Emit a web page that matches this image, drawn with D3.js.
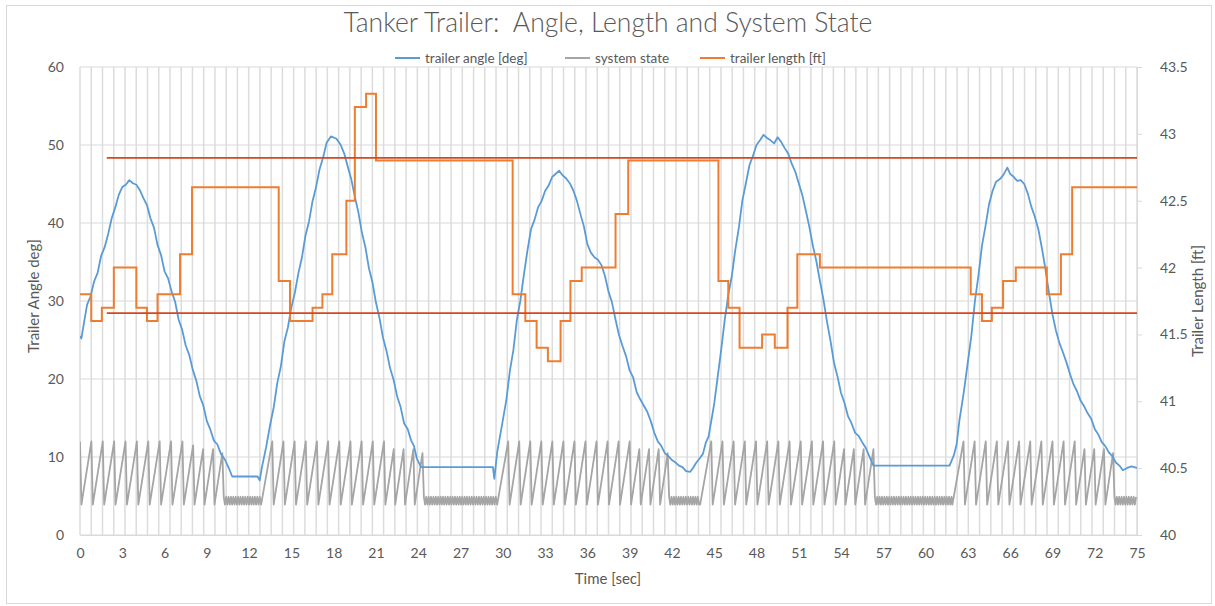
<!DOCTYPE html>
<html>
<head>
<meta charset="utf-8">
<script src="https://cdn.jsdelivr.net/npm/d3@7"></script>
<style>
  body { margin: 0; background: #fff; }
  svg { display: block; }
  text { font-family: Lato, "Open Sans", sans-serif; fill: #595959; }
</style>
</head>
<body>
<div id="chart"></div>
<script>
// ---- data ----
const timeTicks = [0, 3, 6, 9, 12, 15, 18, 21, 24, 27, 30, 33, 36, 39, 42, 45, 48, 51, 54, 57, 60, 63, 66, 69, 72, 75];
const angleTicks = [0, 10, 20, 30, 40, 50, 60];
const lengthTicks = [40, 40.5, 41, 41.5, 42, 42.5, 43, 43.5];

// trailer angle [deg] : [time, value]
const trailerAngle = [
  [0, 25.5], [0.1, 25.2], [0.3, 27.4], [0.5, 29.5], [0.75, 30.6], [1, 32.5], [1.25, 33.6], [1.5, 35.8],
  [1.75, 36.9], [2, 38.6], [2.25, 40.6], [2.5, 42], [2.75, 43.6], [3, 44.6], [3.25, 44.9], [3.5, 45.5],
  [3.75, 45.1], [4, 44.9], [4.25, 44.2], [4.5, 43.2], [4.75, 42.3], [5, 40.6], [5.25, 39.4], [5.5, 37.2],
  [5.75, 35.9], [6, 33.8], [6.25, 32.9], [6.5, 31.2], [6.75, 29.9], [7, 27.6], [7.25, 26.3], [7.5, 24.3],
  [7.75, 23.1], [8, 21.2], [8.25, 19.8], [8.5, 17.8], [8.75, 16.6], [9, 14.6], [9.25, 13.5], [9.5, 12.1],
  [9.75, 11.6], [10, 10.4], [10.3, 9.6], [10.6, 8.4], [10.8, 7.5], [12.6, 7.5],
  [12.75, 7.0], [12.9, 8.6], [13.2, 11.2], [13.5, 14.2], [13.75, 16.4], [14, 19.5], [14.25, 21.6],
  [14.5, 24.8], [14.75, 26.6], [15, 29.2], [15.25, 31.1], [15.5, 33.6], [15.75, 35.6], [16, 38.4],
  [16.25, 40.2], [16.5, 42.8], [16.75, 44.6], [17, 46.9], [17.25, 48.4], [17.5, 50.3], [17.8, 51.1],
  [18.2, 50.8], [18.5, 50], [18.75, 48.9], [19, 47.2], [19.25, 45.6], [19.5, 43.4], [19.75, 41.4],
  [20, 38.8], [20.25, 36.9], [20.5, 34.2], [20.75, 32.4], [21, 29.8], [21.25, 27.8], [21.5, 25.3],
  [21.75, 23.6], [22, 21.4], [22.25, 19.9], [22.5, 17.8], [22.75, 16.4], [23, 14.3], [23.25, 13.6],
  [23.5, 12.1], [23.7, 11.4], [23.9, 9.8], [24.2, 8.7], [29.3, 8.7], [29.4, 7.2], [29.6, 10.6], [30, 14.7],
  [30.25, 17.3], [30.5, 21], [30.75, 23.7], [31, 27.6], [31.25, 30.1], [31.5, 33.4], [31.75, 36.5],
  [32, 39.2], [32.25, 40.4], [32.5, 42], [32.75, 42.8], [33, 44.1], [33.25, 44.8], [33.5, 45.9],
  [34, 46.7], [34.25, 46.1], [34.5, 45.7], [34.75, 45.1], [35, 44.2], [35.25, 42.9], [35.5, 41.2],
  [35.75, 39.6], [36, 37.3], [36.25, 36.2], [36.5, 35.6], [36.75, 35.3], [37, 34.6], [37.25, 33.2],
  [37.5, 31.2], [37.75, 29.8], [38, 27.6], [38.25, 25.6], [38.5, 24.2], [38.75, 22.9], [39, 21.1],
  [39.25, 20.2], [39.5, 18.3], [39.75, 17.4], [40, 16.6], [40.25, 15.8], [40.5, 14.6], [40.75, 13.1],
  [41, 12], [41.25, 11.4], [41.5, 10.5], [41.75, 10.1], [42, 9.6], [42.25, 9.3], [42.5, 8.9], [42.75, 8.7],
  [43, 8.2], [43.3, 8.1], [43.5, 8.6], [43.7, 9.2], [44, 9.9], [44.2, 10.4], [44.4, 11.8], [44.6, 12.6],
  [44.8, 14.7], [45, 16.8], [45.25, 20.3], [45.5, 23.8], [45.75, 27.6], [46, 30.8], [46.25, 33.2],
  [46.5, 36.6], [46.75, 39.4], [47, 42.9], [47.25, 45.1], [47.5, 47.4], [47.75, 48.6], [48, 50],
  [48.25, 50.6], [48.5, 51.3], [48.75, 50.9], [49, 50.6], [49.25, 50.2], [49.5, 51], [49.75, 50.4],
  [50, 49.6], [50.25, 48.9], [50.5, 47.6], [50.75, 46.6], [51, 45.1], [51.25, 43.6], [51.5, 41.6],
  [51.75, 39.5], [52, 37.1], [52.25, 35.1], [52.5, 32.6], [52.75, 30.2], [53, 27.4], [53.25, 24.9],
  [53.5, 22.1], [53.75, 20.3], [54, 18.2], [54.25, 16.9], [54.5, 15.2], [54.75, 14.3], [55, 13.1],
  [55.25, 12.7], [55.5, 11.9], [55.75, 11.2], [56, 10.1], [56.3, 8.9], [61.7, 8.9], [62, 10.2],
  [62.2, 11.6], [62.4, 14.7], [62.7, 18.2], [63, 22.2], [63.25, 25.6], [63.5, 30], [63.75, 33.3],
  [64, 37.1], [64.25, 39.6], [64.5, 42.4], [64.75, 44.1], [65, 45.3], [65.25, 45.6], [65.5, 46.1],
  [65.8, 47.1], [66, 46.3], [66.2, 46], [66.5, 45.4], [66.75, 45.5], [67, 45], [67.25, 43.8],
  [67.5, 42.1], [67.75, 40.8], [68, 39.2], [68.25, 36.8], [68.5, 34.1], [68.75, 31.1], [69, 28.3],
  [69.25, 26.2], [69.5, 24.6], [69.75, 23.4], [70, 22.1], [70.25, 20.6], [70.5, 19.3], [70.75, 18.4],
  [71, 17.2], [71.25, 16.5], [71.5, 15.6], [71.75, 14.9], [72, 13.6], [72.25, 12.9], [72.5, 11.9],
  [72.75, 11.4], [73, 10.6], [73.25, 10.1], [73.5, 9.3], [73.75, 8.9], [74, 8.3], [74.3, 8.6],
  [74.6, 8.8], [75, 8.6]
];

// trailer length [ft] : step starts [time, value]
const trailerLength = [
  [0, 41.8], [0.8, 41.6], [1.55, 41.7], [2.4, 42.0], [4.0, 41.7], [4.75, 41.6], [5.5, 41.8], [7.1, 42.1],
  [7.95, 42.6], [14.1, 41.9], [14.9, 41.6], [16.5, 41.7], [17.2, 41.8], [17.9, 42.1], [18.9, 42.5],
  [19.5, 43.2], [20.3, 43.3], [21.0, 42.8], [30.7, 41.8], [31.6, 41.6], [32.4, 41.4], [33.2, 41.3],
  [34.1, 41.6], [34.8, 41.9], [35.6, 42.0], [38.0, 42.4], [38.9, 42.8], [45.3, 41.9], [46.0, 41.7],
  [46.8, 41.4], [48.4, 41.5], [49.3, 41.4], [50.2, 41.7], [50.9, 42.1], [52.5, 42.0], [63.2, 41.8],
  [64.0, 41.6], [64.7, 41.7], [65.5, 41.9], [66.4, 42.0], [68.6, 41.8], [69.6, 42.1], [70.4, 42.6], [75, 42.6]
];

// system state: active bursts (sawtooth peaks) and idle spans
const stateBursts = [
  { start: 0, end: 10.1, peaks: [12, 12, 12, 12, 12, 12, 12, 12, 12, 12, 11.5, 11, 11, 10.5] },
  { start: 12.85, end: 24.3, peaks: [12, 12, 12, 12, 12, 12, 12, 12, 12, 12, 12, 11, 11, 11, 10.5] },
  { start: 29.6, end: 41.7, peaks: [12, 12, 12, 12, 12, 12, 12, 12, 12, 12, 12, 12, 11, 11, 11, 10.5] },
  { start: 44.0, end: 56.3, peaks: [12, 12, 12, 12, 12, 12, 12, 12, 12, 12, 12, 12, 11, 11, 11, 11] },
  { start: 61.9, end: 73.3, peaks: [12, 12, 12, 12, 12, 12, 12, 12, 12, 12, 12, 11, 11, 11, 10.5] }
];
const stateIdle = [[10.1, 12.85], [24.3, 29.6], [41.7, 44.0], [56.3, 61.9], [73.3, 75]];
const stateLow = 3.9;
const idleHigh = 4.9;

// length limit lines [from time, value]
const limitLines = [[1.9, 42.82], [1.9, 41.66]];

const legendItems = [
  { name: 'trailer angle [deg]', color: '#5b9bd5' },
  { name: 'system state', color: '#a5a5a5' },
  { name: 'trailer length [ft]', color: '#ed7d31' }
];

// ---- chart ----
const width = 1215, height = 606;
const margin = { top: 67, right: 78, bottom: 71, left: 80 };
const innerW = width - margin.left - margin.right;
const innerH = height - margin.top - margin.bottom;

const svg = d3.select('#chart').append('svg')
  .attr('width', width)
  .attr('height', height);

svg.append('rect')
  .attr('x', 6.5).attr('y', 5.5)
  .attr('width', width - 10).attr('height', height - 8)
  .attr('fill', '#fff')
  .attr('stroke', '#d9d9d9');

const x = d3.scaleLinear().domain([0, 75]).range([margin.left, margin.left + innerW]);
const yL = d3.scaleLinear().domain([0, 60]).range([margin.top + innerH, margin.top]);
const yR = d3.scaleLinear().domain([40, 43.5]).range([margin.top + innerH, margin.top]);

svg.append('clipPath').attr('id', 'plot')
  .append('rect')
  .attr('x', margin.left).attr('y', margin.top - 5)
  .attr('width', innerW).attr('height', innerH + 10);

// gridlines
const vGrid = d3.range(95).map(i => i * 75 / 94);
svg.append('g')
  .selectAll('line')
  .data(vGrid)
  .join('line')
  .attr('x1', d => x(d)).attr('x2', d => x(d))
  .attr('y1', yL(60)).attr('y2', yL(0))
  .attr('stroke', '#dcdcdc')
  .attr('stroke-width', 1.5);

svg.append('g')
  .selectAll('line')
  .data(angleTicks)
  .join('line')
  .attr('x1', x(0)).attr('x2', x(75))
  .attr('y1', d => yL(d)).attr('y2', d => yL(d))
  .attr('stroke', '#d9d9d9')
  .attr('stroke-width', 1.2);

// axes
const xAxis = svg.append('g')
  .attr('transform', `translate(0,${yL(0)})`)
  .call(d3.axisBottom(x).tickValues(timeTicks).tickSize(0).tickPadding(13));
xAxis.select('.domain').attr('stroke', '#d9d9d9').attr('stroke-width', 1.2);

const leftAxis = svg.append('g')
  .attr('transform', `translate(${x(0)},0)`)
  .call(d3.axisLeft(yL).tickValues(angleTicks).tickSize(0).tickPadding(16));
leftAxis.select('.domain').remove();

const rightAxis = svg.append('g')
  .attr('transform', `translate(${x(75)},0)`)
  .call(d3.axisRight(yR).tickValues(lengthTicks).tickSize(5).tickPadding(18).tickFormat(d3.format('~g')));
rightAxis.select('.domain').attr('stroke', '#d9d9d9');
rightAxis.selectAll('.tick line').attr('stroke', '#d9d9d9');

svg.selectAll('.tick text')
  .attr('font-size', 14)
  .style('fill', '#595959')
  .style('font-family', 'Lato, sans-serif');

// system state series
const stateSeries = [];
stateBursts.forEach(b => {
  const rise = b.peaks.map(p => p - stateLow);
  if (b.start === 0) rise[0] = 0;
  const k = (b.end - b.start) / d3.sum(rise);
  let t = b.start;
  if (b.start !== 0) stateSeries.push([t, stateLow]);
  b.peaks.forEach((p, i) => {
    t += rise[i] * k;
    stateSeries.push([t, p]);
    if (i < b.peaks.length - 1) stateSeries.push([t + 0.1, stateLow]);
  });
});
stateIdle.forEach(([s, e]) => {
  let t = s + 0.1, hi = true;
  while (t < e - 0.05) {
    stateSeries.push([t, hi ? idleHigh : stateLow]);
    hi = !hi;
    t += 0.085;
  }
});
stateSeries.sort((a, b) => a[0] - b[0]);

const plot = svg.append('g').attr('clip-path', 'url(#plot)');

plot.append('path')
  .datum(stateSeries)
  .attr('fill', 'none')
  .attr('stroke', '#a5a5a5')
  .attr('stroke-width', 1.8)
  .attr('stroke-linejoin', 'round')
  .attr('d', d3.line().x(d => x(d[0])).y(d => yL(d[1])));

plot.append('path')
  .datum(trailerAngle)
  .attr('fill', 'none')
  .attr('stroke', '#5b9bd5')
  .attr('stroke-width', 1.8)
  .attr('stroke-linejoin', 'round')
  .attr('d', d3.line().x(d => x(d[0])).y(d => yL(d[1])));

plot.append('path')
  .datum(trailerLength)
  .attr('fill', 'none')
  .attr('stroke', '#ed7d31')
  .attr('stroke-width', 2)
  .attr('d', d3.line().curve(d3.curveStepAfter).x(d => x(d[0])).y(d => yR(d[1])));

plot.append('g')
  .selectAll('line')
  .data(limitLines)
  .join('line')
  .attr('x1', d => x(d[0])).attr('x2', x(75))
  .attr('y1', d => yR(d[1])).attr('y2', d => yR(d[1]))
  .attr('stroke', '#d9461e')
  .attr('stroke-width', 1.8);

// titles
svg.append('text')
  .attr('x', 608).attr('y', 32)
  .attr('text-anchor', 'middle')
  .attr('font-size', 26.5)
  .attr('font-weight', 300)
  .style('white-space', 'pre')
  .text('Tanker Trailer:  Angle, Length and System State');

svg.append('text')
  .attr('x', 608).attr('y', 584)
  .attr('text-anchor', 'middle')
  .attr('font-size', 15)
  .text('Time [sec]');

svg.append('text')
  .attr('transform', 'translate(39,296) rotate(-90)')
  .attr('text-anchor', 'middle')
  .attr('font-size', 15)
  .text('Trailer Angle deg]');

svg.append('text')
  .attr('transform', 'translate(1203,301) rotate(-90)')
  .attr('text-anchor', 'middle')
  .attr('font-size', 15)
  .text('Trailer Length [ft]');

// legend
const legendX = [395, 565, 700];
const legend = svg.append('g')
  .selectAll('g')
  .data(legendItems)
  .join('g')
  .attr('transform', (d, i) => `translate(${legendX[i]},58)`);
legend.append('line')
  .attr('x1', 0).attr('x2', 25)
  .attr('stroke', d => d.color)
  .attr('stroke-width', 2);
legend.append('text')
  .attr('x', 30).attr('y', 4.5)
  .attr('font-size', 13.5)
  .text(d => d.name);
</script>
</body>
</html>
